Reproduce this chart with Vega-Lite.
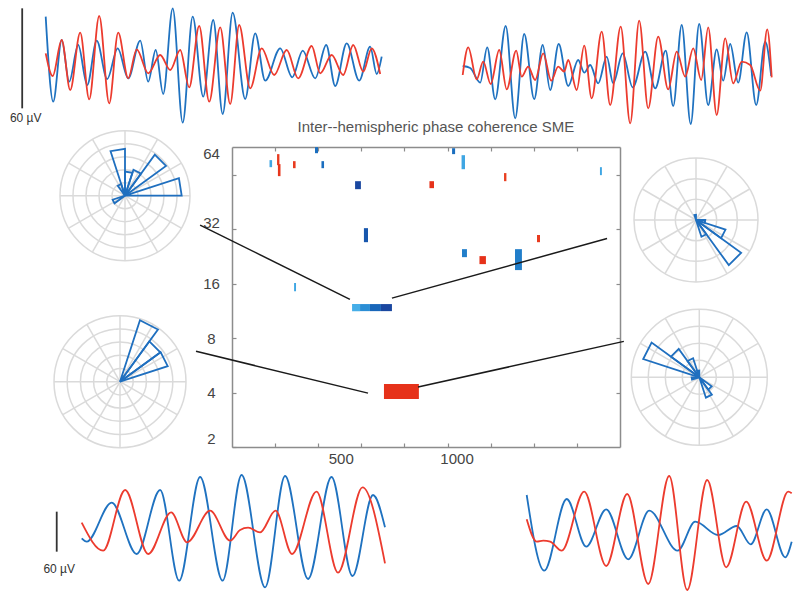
{
"$schema":"https://vega.github.io/schema/vega-lite/v6.json",
"width":388,"height":300,
"autosize":{"type":"none"},
"padding":{"left":232,"top":147,"right":180,"bottom":154},
"background":"#ffffff",
"config":{"view":{"stroke":null},"font":"Liberation Sans"},
"datasets":{
"ring5":[{"r":1,"x":0,"y":0},{"r":2,"x":0,"y":0},{"r":3,"x":0,"y":0},{"r":4,"x":0,"y":0},{"r":5,"x":0,"y":0}],
"ring4":[{"r":1,"x":0,"y":0},{"r":2,"x":0,"y":0},{"r":3,"x":0,"y":0},{"r":4,"x":0,"y":0}],
"ring3":[{"r":1,"x":0,"y":0},{"r":2,"x":0,"y":0},{"r":3,"x":0,"y":0}],
"spk5":[{"x":5,"y":0,"x2":-5,"y2":0},{"x":4.33,"y":2.5,"x2":-4.33,"y2":-2.5},{"x":2.5,"y":4.33,"x2":-2.5,"y2":-4.33},{"x":0,"y":5,"x2":0,"y2":-5},{"x":-2.5,"y":4.33,"x2":2.5,"y2":-4.33},{"x":-4.33,"y":2.5,"x2":4.33,"y2":-2.5}],
"spk4":[{"x":4,"y":0,"x2":-4,"y2":0},{"x":3.464,"y":2,"x2":-3.464,"y2":-2},{"x":2,"y":3.464,"x2":-2,"y2":-3.464},{"x":0,"y":4,"x2":0,"y2":-4},{"x":-2,"y":3.464,"x2":2,"y2":-3.464},{"x":-3.464,"y":2,"x2":3.464,"y2":-2}],
"spk3":[{"x":3,"y":0,"x2":-3,"y2":0},{"x":2.598,"y":1.5,"x2":-2.598,"y2":-1.5},{"x":1.5,"y":2.598,"x2":-1.5,"y2":-2.598},{"x":0,"y":3,"x2":0,"y2":-3},{"x":-1.5,"y":2.598,"x2":1.5,"y2":-2.598},{"x":-2.598,"y":1.5,"x2":2.598,"y2":-1.5}],
"pTL":[
{"p":1,"o":0,"x":0,"y":0},{"p":1,"o":1,"x":4.36,"y":0},{"p":1,"o":2,"x":4.147,"y":1.347},{"p":1,"o":3,"x":0,"y":0},
{"p":2,"o":0,"x":0,"y":0},{"p":2,"o":1,"x":3.155,"y":2.292},{"p":2,"o":2,"x":2.292,"y":3.155},{"p":2,"o":3,"x":0,"y":0},
{"p":3,"o":0,"x":0,"y":0},{"p":3,"o":1,"x":1.234,"y":1.699},{"p":3,"o":2,"x":0.649,"y":1.997},{"p":3,"o":3,"x":0,"y":0},
{"p":4,"o":0,"x":0,"y":0},{"p":4,"o":1,"x":0.572,"y":1.76},{"p":4,"o":2,"x":0,"y":1.85},{"p":4,"o":3,"x":0,"y":0},
{"p":5,"o":0,"x":0,"y":0},{"p":5,"o":1,"x":0,"y":3.6},{"p":5,"o":2,"x":-1.112,"y":3.424},{"p":5,"o":3,"x":0,"y":0},
{"p":6,"o":0,"x":0,"y":0},{"p":6,"o":1,"x":-0.294,"y":0.904},{"p":6,"o":2,"x":-0.558,"y":0.769},{"p":6,"o":3,"x":0,"y":0},
{"p":7,"o":0,"x":0,"y":0},{"p":7,"o":1,"x":-0.951,"y":-0.309},{"p":7,"o":2,"x":-0.809,"y":-0.588},{"p":7,"o":3,"x":0,"y":0}],
"pBL":[
{"p":1,"o":0,"x":0,"y":0},{"p":1,"o":1,"x":2.874,"y":3.956},{"p":1,"o":2,"x":1.511,"y":4.651},{"p":1,"o":3,"x":0,"y":0},
{"p":2,"o":0,"x":0,"y":0},{"p":2,"o":1,"x":3.058,"y":2.222},{"p":2,"o":2,"x":2.222,"y":3.058},{"p":2,"o":3,"x":0,"y":0},
{"p":3,"o":0,"x":0,"y":0},{"p":3,"o":1,"x":3.614,"y":1.174},{"p":3,"o":2,"x":3.074,"y":2.234},{"p":3,"o":3,"x":0,"y":0}],
"pTR":[
{"p":1,"o":0,"x":0,"y":0},{"p":1,"o":1,"x":1.587,"y":-2.184},{"p":1,"o":2,"x":2.184,"y":-1.587},{"p":1,"o":3,"x":0,"y":0},
{"p":2,"o":0,"x":0,"y":0},{"p":2,"o":1,"x":1.214,"y":-0.882},{"p":2,"o":2,"x":1.427,"y":-0.464},{"p":2,"o":3,"x":0,"y":0},
{"p":3,"o":0,"x":0,"y":0},{"p":3,"o":1,"x":0.428,"y":-0.139},{"p":3,"o":2,"x":0.45,"y":0},{"p":3,"o":3,"x":0,"y":0},
{"p":4,"o":0,"x":0,"y":0},{"p":4,"o":1,"x":0.263,"y":-0.808},{"p":4,"o":2,"x":0.5,"y":-0.688},{"p":4,"o":3,"x":0,"y":0},
{"p":5,"o":0,"x":0,"y":0},{"p":5,"o":1,"x":0,"y":0.25},{"p":5,"o":2,"x":-0.077,"y":0.238},{"p":5,"o":3,"x":0,"y":0}],
"pBR":[
{"p":1,"o":0,"x":0,"y":0},{"p":1,"o":1,"x":-2.807,"y":2.04},{"p":1,"o":2,"x":-3.3,"y":1.072},{"p":1,"o":3,"x":0,"y":0},
{"p":2,"o":0,"x":0,"y":0},{"p":2,"o":1,"x":-1.211,"y":1.667},{"p":2,"o":2,"x":-1.667,"y":1.211},{"p":2,"o":3,"x":0,"y":0},
{"p":3,"o":0,"x":0,"y":0},{"p":3,"o":1,"x":-0.365,"y":1.122},{"p":3,"o":2,"x":-0.694,"y":0.955},{"p":3,"o":3,"x":0,"y":0},
{"p":4,"o":0,"x":0,"y":0},{"p":4,"o":1,"x":0.389,"y":-1.198},{"p":4,"o":2,"x":0.741,"y":-1.019},{"p":4,"o":3,"x":0,"y":0},
{"p":5,"o":0,"x":0,"y":0},{"p":5,"o":1,"x":0.529,"y":-0.728},{"p":5,"o":2,"x":0.728,"y":-0.529},{"p":5,"o":3,"x":0,"y":0},
{"p":6,"o":0,"x":0,"y":0},{"p":6,"o":1,"x":-0.45,"y":0},{"p":6,"o":2,"x":-0.428,"y":-0.139},{"p":6,"o":3,"x":0,"y":0},
{"p":7,"o":0,"x":0,"y":0},{"p":7,"o":1,"x":0,"y":0.4},{"p":7,"o":2,"x":-0.124,"y":0.38},{"p":7,"o":3,"x":0,"y":0}],
"wTL":[
{"c":"L","t":0,"v":26},{"c":"L","t":15,"v":-25},{"c":"L","t":32,"v":12},{"c":"L","t":47,"v":-13},{"c":"L","t":65,"v":9},{"c":"L","t":83,"v":-15},{"c":"L","t":102,"v":11.6},{"c":"L","t":123,"v":-11.4},{"c":"L","t":144,"v":7},{"c":"L","t":165,"v":-11},{"c":"L","t":189,"v":11.6},{"c":"L","t":205,"v":-13},{"c":"L","t":220,"v":6},{"c":"L","t":235,"v":-20.4},{"c":"L","t":254,"v":31},{"c":"L","t":274,"v":-37.6},{"c":"L","t":294,"v":26},{"c":"L","t":315,"v":-22},{"c":"L","t":335,"v":24},{"c":"L","t":354,"v":-32.4},{"c":"L","t":374,"v":28.4},{"c":"L","t":399,"v":-23.4},{"c":"L","t":419,"v":16},{"c":"L","t":439,"v":-12.4},{"c":"L","t":469,"v":7},{"c":"L","t":493,"v":-10.4},{"c":"L","t":514,"v":5.6},{"c":"L","t":539,"v":-11},{"c":"L","t":561,"v":9},{"c":"L","t":579,"v":-15.6},{"c":"L","t":602,"v":10},{"c":"L","t":627,"v":-12.4},{"c":"L","t":649,"v":8},{"c":"L","t":662,"v":-8.4},{"c":"L","t":672,"v":2},
{"c":"R","t":0,"v":4},{"c":"R","t":14,"v":-9.6},{"c":"R","t":32,"v":12},{"c":"R","t":49,"v":-18},{"c":"R","t":69,"v":16.4},{"c":"R","t":87,"v":-23.6},{"c":"R","t":107,"v":26.4},{"c":"R","t":127,"v":-26},{"c":"R","t":145,"v":16.4},{"c":"R","t":165,"v":-11},{"c":"R","t":182,"v":6.4},{"c":"R","t":205,"v":-8},{"c":"R","t":229,"v":3},{"c":"R","t":249,"v":-6},{"c":"R","t":269,"v":6},{"c":"R","t":287,"v":-16.4},{"c":"R","t":307,"v":20.4},{"c":"R","t":327,"v":-25},{"c":"R","t":349,"v":19.6},{"c":"R","t":369,"v":-26.4},{"c":"R","t":387,"v":21},{"c":"R","t":409,"v":-17},{"c":"R","t":432,"v":7},{"c":"R","t":457,"v":-9},{"c":"R","t":482,"v":6},{"c":"R","t":505,"v":-11},{"c":"R","t":532,"v":8.4},{"c":"R","t":549,"v":-8},{"c":"R","t":572,"v":3},{"c":"R","t":595,"v":-9},{"c":"R","t":615,"v":9},{"c":"R","t":635,"v":-7},{"c":"R","t":652,"v":7},{"c":"R","t":669,"v":-8.4}],
"wTR":[
{"c":"L","t":0,"v":-3.6},{"c":"L","t":15,"v":-4.8},{"c":"L","t":35,"v":-13.6},{"c":"L","t":49,"v":7.6},{"c":"L","t":65,"v":-23.6},{"c":"L","t":86,"v":20.4},{"c":"L","t":105,"v":-35},{"c":"L","t":123,"v":15.6},{"c":"L","t":143,"v":-23.4},{"c":"L","t":160,"v":9},{"c":"L","t":175,"v":-18},{"c":"L","t":192,"v":9.6},{"c":"L","t":211,"v":-15.6},{"c":"L","t":231,"v":0},{"c":"L","t":243,"v":-7.6},{"c":"L","t":255,"v":-3},{"c":"L","t":271,"v":-14},{"c":"L","t":288,"v":2},{"c":"L","t":301,"v":-14},{"c":"L","t":320,"v":4},{"c":"L","t":340,"v":-16.4},{"c":"L","t":365,"v":5},{"c":"L","t":385,"v":-17},{"c":"L","t":406,"v":5.6},{"c":"L","t":421,"v":-27.6},{"c":"L","t":438,"v":21},{"c":"L","t":456,"v":-38.4},{"c":"L","t":473,"v":21.6},{"c":"L","t":491,"v":-27},{"c":"L","t":508,"v":6.4},{"c":"L","t":521,"v":-12.4},{"c":"L","t":535,"v":9.6},{"c":"L","t":551,"v":-13.6},{"c":"L","t":568,"v":16.6},{"c":"L","t":587,"v":-27},{"c":"L","t":605,"v":11},{"c":"L","t":617,"v":-9.6},
{"c":"R","t":0,"v":-9},{"c":"R","t":11,"v":7.6},{"c":"R","t":28,"v":-11.6},{"c":"R","t":41,"v":-1},{"c":"R","t":56,"v":-14.4},{"c":"R","t":73,"v":6},{"c":"R","t":88,"v":-17.6},{"c":"R","t":107,"v":5.6},{"c":"R","t":118,"v":-10},{"c":"R","t":131,"v":-4},{"c":"R","t":145,"v":-12},{"c":"R","t":161,"v":4},{"c":"R","t":177,"v":-12.4},{"c":"R","t":191,"v":-4},{"c":"R","t":203,"v":-7},{"c":"R","t":211,"v":0},{"c":"R","t":228,"v":-18},{"c":"R","t":243,"v":8.6},{"c":"R","t":258,"v":-23},{"c":"R","t":278,"v":17},{"c":"R","t":295,"v":-27},{"c":"R","t":316,"v":20},{"c":"R","t":335,"v":-38},{"c":"R","t":353,"v":23.6},{"c":"R","t":371,"v":-29},{"c":"R","t":391,"v":14},{"c":"R","t":411,"v":-17.6},{"c":"R","t":428,"v":5},{"c":"R","t":445,"v":-10},{"c":"R","t":461,"v":7},{"c":"R","t":477,"v":-12},{"c":"R","t":491,"v":19.6},{"c":"R","t":508,"v":-33},{"c":"R","t":525,"v":13},{"c":"R","t":541,"v":-14},{"c":"R","t":558,"v":-1},{"c":"R","t":575,"v":-3},{"c":"R","t":595,"v":-18.4},{"c":"R","t":609,"v":18.4},{"c":"R","t":618,"v":-10.4}],
"wBL":[
{"c":"L","t":0,"v":-9.5},{"c":"L","t":10,"v":-14.5},{"c":"L","t":60,"v":44},{"c":"L","t":110,"v":-33},{"c":"L","t":157,"v":63},{"c":"L","t":195,"v":-73},{"c":"L","t":237,"v":82.5},{"c":"L","t":282,"v":-73},{"c":"L","t":320,"v":85.5},{"c":"L","t":367,"v":-83},{"c":"L","t":407,"v":84},{"c":"L","t":453,"v":-70.5},{"c":"L","t":500,"v":82.5},{"c":"L","t":542,"v":-66},{"c":"L","t":583,"v":55.5},{"c":"L","t":607,"v":7},
{"c":"R","t":0,"v":14},{"c":"R","t":43,"v":-28},{"c":"R","t":87,"v":63},{"c":"R","t":133,"v":-33},{"c":"R","t":179,"v":29.5},{"c":"R","t":211,"v":-15.5},{"c":"R","t":257,"v":32},{"c":"R","t":297,"v":-13},{"c":"R","t":317,"v":3},{"c":"R","t":333,"v":6.5},{"c":"R","t":357,"v":-0.5},{"c":"R","t":388,"v":32},{"c":"R","t":421,"v":-33},{"c":"R","t":470,"v":60.5},{"c":"R","t":513,"v":-61},{"c":"R","t":562,"v":67},{"c":"R","t":607,"v":-47}],
"wBR":[
{"c":"L","t":0,"v":55.5},{"c":"L","t":35,"v":-58},{"c":"L","t":80,"v":49.5},{"c":"L","t":119,"v":-22},{"c":"L","t":159,"v":34},{"c":"L","t":203,"v":-41},{"c":"L","t":245,"v":32},{"c":"L","t":302,"v":-28},{"c":"L","t":337,"v":15.5},{"c":"L","t":383,"v":-4.5},{"c":"L","t":420,"v":9},{"c":"L","t":448,"v":-18.5},{"c":"L","t":480,"v":34},{"c":"L","t":517,"v":-38},{"c":"L","t":530,"v":-14.5},
{"c":"R","t":0,"v":19},{"c":"R","t":20,"v":-14.5},{"c":"R","t":33,"v":-13},{"c":"R","t":47,"v":-14.5},{"c":"R","t":70,"v":-28},{"c":"R","t":115,"v":60.5},{"c":"R","t":159,"v":-51},{"c":"R","t":201,"v":57},{"c":"R","t":243,"v":-78},{"c":"R","t":285,"v":84},{"c":"R","t":321,"v":-87},{"c":"R","t":361,"v":78},{"c":"R","t":399,"v":-53},{"c":"R","t":439,"v":45.5},{"c":"R","t":480,"v":-43},{"c":"R","t":523,"v":60.5},{"c":"R","t":530,"v":58}],
"heat":[
{"t0":174,"t1":186,"f0":77.0,"f1":70.4,"v":-0.35},
{"t0":209,"t1":220,"f0":83.1,"f1":72.2,"v":0.85},
{"t0":213,"t1":225,"f0":73.2,"f1":62.8,"v":0.9},
{"t0":283,"t1":295,"f0":76.0,"f1":69.5,"v":0.85},
{"t0":385,"t1":399,"f0":90.8,"f1":84.1,"v":-0.7},
{"t0":415,"t1":427,"f0":76.0,"f1":69.5,"v":-0.7},
{"t0":571,"t1":598,"f0":58.9,"f1":53.2,"v":-0.95},
{"t0":916,"t1":937,"f0":58.9,"f1":53.9,"v":0.95},
{"t0":1021,"t1":1035,"f0":89.6,"f1":83.1,"v":-0.7},
{"t0":1065,"t1":1081,"f0":82.0,"f1":68.6,"v":-0.35},
{"t0":1262,"t1":1273,"f0":65.3,"f1":58.9,"v":0.8},
{"t0":1707,"t1":1716,"f0":70.4,"f1":63.6,"v":-0.35},
{"t0":612,"t1":631,"f0":32.4,"f1":27.1,"v":-0.85},
{"t0":1415,"t1":1429,"f0":29.7,"f1":27.1,"v":0.85},
{"t0":1067,"t1":1090,"f0":24.8,"f1":22.4,"v":-0.6},
{"t0":1148,"t1":1178,"f0":22.7,"f1":20.5,"v":0.95},
{"t0":1313,"t1":1345,"f0":24.8,"f1":19.0,"v":-0.6},
{"t0":288,"t1":297,"f0":16.1,"f1":14.5,"v":-0.35},
{"t0":557,"t1":594,"f0":12.33,"f1":11.27,"v":-0.3},
{"t0":594,"t1":640,"f0":12.33,"f1":11.27,"v":-0.5},
{"t0":640,"t1":691,"f0":12.33,"f1":11.27,"v":-0.75},
{"t0":691,"t1":742,"f0":12.33,"f1":11.27,"v":-0.95},
{"t0":705,"t1":867,"f0":4.46,"f1":3.68,"v":0.95}],
"links":[{"t0":-148,"f0":33.7,"t1":547,"f1":13.1},{"t0":742,"f0":13.3,"t1":1740,"f1":28.4},{"t0":-167,"f0":6.76,"t1":631,"f1":3.97},{"t0":863,"f0":4.29,"t1":1818,"f1":7.67}]
},
"layer":[
{"encoding":{"x":{"field":"x","type":"quantitative","scale":{"domain":[-5,5],"range":[-172,-42],"nice":false,"zero":false},"axis":null},"y":{"field":"y","type":"quantitative","scale":{"domain":[-5,5],"range":[113.7,-16.3],"nice":false,"zero":false},"axis":null}},
 "layer":[
  {"data":{"name":"ring5"},"mark":{"type":"point","shape":"circle","filled":false,"color":"#dadada","strokeWidth":1.5,"opacity":1},"encoding":{"size":{"field":"r","type":"quantitative","scale":{"type":"pow","exponent":2,"domain":[0,5],"range":[0,16900]},"legend":null}}},
  {"data":{"name":"spk5"},"mark":{"type":"rule","color":"#dadada","strokeWidth":1.5},"encoding":{"x2":{"field":"x2"},"y2":{"field":"y2"}}},
  {"data":{"name":"pTL"},"mark":{"type":"line","color":"#1f6fbf","strokeWidth":1.8},"encoding":{"detail":{"field":"p"},"order":{"field":"o"}}}
 ]},
{"encoding":{"x":{"field":"x","type":"quantitative","scale":{"domain":[-5,5],"range":[-178,-46],"nice":false,"zero":false},"axis":null},"y":{"field":"y","type":"quantitative","scale":{"domain":[-5,5],"range":[300.7,168.7],"nice":false,"zero":false},"axis":null}},
 "layer":[
  {"data":{"name":"ring5"},"mark":{"type":"point","shape":"circle","filled":false,"color":"#dadada","strokeWidth":1.5,"opacity":1},"encoding":{"size":{"field":"r","type":"quantitative","scale":{"type":"pow","exponent":2,"domain":[0,5],"range":[0,17424]},"legend":null}}},
  {"data":{"name":"spk5"},"mark":{"type":"rule","color":"#dadada","strokeWidth":1.5},"encoding":{"x2":{"field":"x2"},"y2":{"field":"y2"}}},
  {"data":{"name":"pBL"},"mark":{"type":"line","color":"#1f6fbf","strokeWidth":1.8},"encoding":{"detail":{"field":"p"},"order":{"field":"o"}}}
 ]},
{"encoding":{"x":{"field":"x","type":"quantitative","scale":{"domain":[-3,3],"range":[402,526],"nice":false,"zero":false},"axis":null},"y":{"field":"y","type":"quantitative","scale":{"domain":[-3,3],"range":[135,11],"nice":false,"zero":false},"axis":null}},
 "layer":[
  {"data":{"name":"ring3"},"mark":{"type":"point","shape":"circle","filled":false,"color":"#dadada","strokeWidth":1.5,"opacity":1},"encoding":{"size":{"field":"r","type":"quantitative","scale":{"type":"pow","exponent":2,"domain":[0,3],"range":[0,15376]},"legend":null}}},
  {"data":{"name":"spk3"},"mark":{"type":"rule","color":"#dadada","strokeWidth":1.5},"encoding":{"x2":{"field":"x2"},"y2":{"field":"y2"}}},
  {"data":{"name":"pTR"},"mark":{"type":"line","color":"#1f6fbf","strokeWidth":1.8},"encoding":{"detail":{"field":"p"},"order":{"field":"o"}}}
 ]},
{"encoding":{"x":{"field":"x","type":"quantitative","scale":{"domain":[-4,4],"range":[399.3,535.3],"nice":false,"zero":false},"axis":null},"y":{"field":"y","type":"quantitative","scale":{"domain":[-4,4],"range":[298.3,162.3],"nice":false,"zero":false},"axis":null}},
 "layer":[
  {"data":{"name":"ring4"},"mark":{"type":"point","shape":"circle","filled":false,"color":"#dadada","strokeWidth":1.5,"opacity":1},"encoding":{"size":{"field":"r","type":"quantitative","scale":{"type":"pow","exponent":2,"domain":[0,4],"range":[0,18496]},"legend":null}}},
  {"data":{"name":"spk4"},"mark":{"type":"rule","color":"#dadada","strokeWidth":1.5},"encoding":{"x2":{"field":"x2"},"y2":{"field":"y2"}}},
  {"data":{"name":"pBR"},"mark":{"type":"line","color":"#1f6fbf","strokeWidth":1.8},"encoding":{"detail":{"field":"p"},"order":{"field":"o"}}}
 ]},
{"encoding":{"x":{"field":"t","type":"quantitative","scale":{"domain":[0,672],"range":[-186.3,149.7],"nice":false,"zero":false},"axis":null},"y":{"field":"v","type":"quantitative","scale":{"domain":[-36,36],"range":[-27,-147],"nice":false,"zero":false},"axis":null}},
 "layer":[
  {"data":{"name":"wTL"},"mark":{"type":"line","interpolate":"monotone","strokeWidth":1.8},"encoding":{"color":{"field":"c","type":"nominal","scale":{"domain":["L","R"],"range":["#1f72c0","#ec3b2e"]},"legend":null}}},
  {"data":{"values":[{"t":-47,"v":-29,"v2":31}]},"mark":{"type":"rule","color":"#333333","strokeWidth":1.8},"encoding":{"y2":{"field":"v2"}}},
  {"data":{"values":[{"t":-40,"v":-35,"label":"60  µV"}]},"mark":{"type":"text","fontSize":12,"color":"#333333","font":"Liberation Sans"},"encoding":{"text":{"field":"label"}}}
 ]},
{"encoding":{"x":{"field":"t","type":"quantitative","scale":{"domain":[0,618],"range":[230.7,539.7],"nice":false,"zero":false},"axis":null},"y":{"field":"v","type":"quantitative","scale":{"domain":[-36,36],"range":[-27,-147],"nice":false,"zero":false},"axis":null}},
 "layer":[
  {"data":{"name":"wTR"},"mark":{"type":"line","interpolate":"monotone","strokeWidth":1.8},"encoding":{"color":{"field":"c","type":"nominal","scale":{"domain":["L","R"],"range":["#1f72c0","#ec3b2e"]},"legend":null}}}
 ]},
{"encoding":{"x":{"field":"t","type":"quantitative","scale":{"domain":[0,607],"range":[-150.3,153],"nice":false,"zero":false},"axis":null},"y":{"field":"v","type":"quantitative","scale":{"domain":[-90,90],"range":[445,325],"nice":false,"zero":false},"axis":null}},
 "layer":[
  {"data":{"name":"wBL"},"mark":{"type":"line","interpolate":"monotone","strokeWidth":1.8},"encoding":{"color":{"field":"c","type":"nominal","scale":{"domain":["L","R"],"range":["#1f72c0","#ec3b2e"]},"legend":null}}},
  {"data":{"values":[{"t":-50,"v":-29.5,"v2":30.5}]},"mark":{"type":"rule","color":"#333333","strokeWidth":1.8},"encoding":{"y2":{"field":"v2"}}},
  {"data":{"values":[{"t":-45,"v":-55.5,"label":"60 µV"}]},"mark":{"type":"text","fontSize":12,"color":"#333333","font":"Liberation Sans"},"encoding":{"text":{"field":"label"}}}
 ]},
{"encoding":{"x":{"field":"t","type":"quantitative","scale":{"domain":[0,530],"range":[294.7,559.7],"nice":false,"zero":false},"axis":null},"y":{"field":"v","type":"quantitative","scale":{"domain":[-90,90],"range":[445,325],"nice":false,"zero":false},"axis":null}},
 "layer":[
  {"data":{"name":"wBR"},"mark":{"type":"line","interpolate":"monotone","strokeWidth":1.8},"encoding":{"color":{"field":"c","type":"nominal","scale":{"domain":["L","R"],"range":["#1f72c0","#ec3b2e"]},"legend":null}}}
 ]},
{"layer":[
  {"data":{"name":"heat"},"mark":{"type":"rect"},"encoding":{
    "x":{"field":"t0","type":"quantitative","scale":{"domain":[0,1800],"nice":false,"zero":false},"axis":{"orient":"bottom","values":[200,400,500,600,800,1000,1200,1400,1600],"format":"d","labelExpr":"datum.value==500||datum.value==1000 ? datum.label : ''","tickSize":-4,"tickColor":"#8c8c8c","tickWidth":1.2,"tickOpacity":{"condition":{"test":"datum.value==500","value":0},"value":1},"labelOffset":{"condition":{"test":"datum.value==1000","value":9},"value":1},"domainColor":"#8c8c8c","domainWidth":1.5,"labelColor":"#444444","labelFontSize":15,"labelFont":"Liberation Sans","labelPadding":8,"grid":false,"title":null,"labelFlush":false,"labelOverlap":false}},
    "x2":{"field":"t1"},
    "y":{"field":"f0","type":"quantitative","scale":{"type":"log","domain":[2,91],"nice":false},"axis":{"orient":"left","values":[2,4,8,16,32,64],"format":"d","tickSize":-4,"tickColor":"#8c8c8c","tickWidth":1.2,"domainColor":"#8c8c8c","domainWidth":1.5,"labelColor":"#444444","labelFontSize":15,"labelFont":"Liberation Sans","labelAlign":"center","labelBaseline":"middle","labelPadding":25,"labelOffset":{"condition":[{"test":"datum.value==64","value":-21},{"test":"datum.value==32","value":-7},{"test":"datum.value==2","value":-9}],"value":0},"grid":false,"title":null,"labelFlush":false,"labelOverlap":false}},
    "y2":{"field":"f1"},
    "color":{"field":"v","type":"quantitative","scale":{"domain":[-1,-0.3,0.3,1],"range":["#1b3f99","#46aee8","#f2603a","#e52d17"]},"legend":null}}},
  {"data":{"name":"links"},"mark":{"type":"rule","color":"#1a1a1a","strokeWidth":1.5},"encoding":{
    "x":{"field":"t0","type":"quantitative","scale":{"domain":[0,1800],"nice":false,"zero":false},"axis":{"orient":"top","values":[200,400,600,800,1000,1200,1400,1600],"labels":false,"tickSize":-4,"tickColor":"#8c8c8c","tickWidth":1.2,"domainColor":"#8c8c8c","domainWidth":1.5,"grid":false,"title":null}},
    "x2":{"field":"t1"},
    "y":{"field":"f0","type":"quantitative","scale":{"type":"log","domain":[2,91],"nice":false},"axis":{"orient":"right","values":[4,8,16,32,64],"labels":false,"tickSize":-4,"tickColor":"#8c8c8c","tickWidth":1.2,"domainColor":"#8c8c8c","domainWidth":1.5,"grid":false,"title":null}},
    "y2":{"field":"f1"}}},
  {"data":{"values":[{"t":946,"f":117,"label":"Inter--hemispheric phase coherence SME"}]},"mark":{"type":"text","fontSize":15,"color":"#555555","font":"Liberation Sans","baseline":"middle"},"encoding":{
    "x":{"field":"t","type":"quantitative","axis":null},
    "y":{"field":"f","type":"quantitative","axis":null},
    "text":{"field":"label"}}}
 ],
 "resolve":{"axis":{"x":"independent","y":"independent"}}}
],
"resolve":{"scale":{"x":"independent","y":"independent","color":"independent","size":"independent"},"axis":{"x":"independent","y":"independent"}}
}
